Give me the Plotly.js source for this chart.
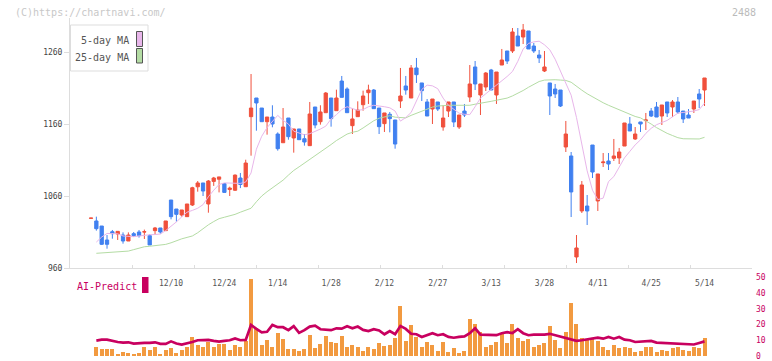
<!DOCTYPE html>
<html><head><meta charset="utf-8">
<script src="https://cdn.plot.ly/plotly-3.0.1.min.js"></script>
<style>html,body{margin:0;padding:0;background:#fff;}#chart{width:772px;height:361px;}</style>
</head><body><div id="chart"></div>
<script>
// ---- data ----
const tickIdx    = [15, 25, 35, 45, 55, 65, 75, 85, 95, 105, 115];
const tickLabels = ['12/10','12/24','1/14','1/28','2/12','2/27','3/13','3/28','4/11','4/25','5/14'];

const openP = [1029,1025.3,1018.3,998.9,1010.4,1007.2,1005.8,997.5,1007.7,1010,1009.9,1004.9,1011.9,1015.6,1011.9,1054.4,1041.9,1033.6,1031.3,1047.5,
1072.8,1078.1,1048.9,1080.3,1083.3,1077.2,1069,1068,1085,1072.9,1170.2,1196.1,1182.2,1163.2,1169.7,1146.1,1134,1168.3,1140.6,1153.1,
1139.6,1129.9,1183.6,1163.2,1175.7,1196.1,1178.5,1219.7,1208.6,1157.7,1170.2,1186.8,1203.5,1207.2,1182.2,1160.5,1173.5,1165.6,1191.9,1212.8,
1196.1,1237.8,1217,1190.6,1180.8,1190.6,1155.8,1178,1190.6,1155.8,1178,1197.5,1239.2,1200.3,1211.4,1235,1200.3,1241.9,1261.4,1261.4,
1282.2,1280.8,1289.2,1268.3,1255.8,1233.6,1217,1208.6,1207.2,1128.1,1115.6,975.3,1039.2,1046.1,1130.8,1053.1,1106.3,1108.6,1112.3,1112.8,
1129.4,1160,1139.2,1162.8,1164.7,1178,1183.6,1171.1,1190.6,1183.6,1190.6,1178,1172.5,1180.8,1201.7,1207.2];
const highP = [1029.3,1031.3,1018.3,1005.8,1012.8,1010.9,1009.5,1009.5,1010,1012.8,1013.3,1006.7,1017,1015.6,1025.3,1054.4,1041.9,1040.6,1048.9,1072.8,
1080.8,1078.1,1082.2,1086.5,1086.5,1077.2,1073,1090,1092,1110.4,1229.4,1196.1,1182.2,1169.7,1186,1148.4,1182.2,1168.3,1153.1,1153.1,
1146.1,1190.6,1183.6,1186,1204.4,1196.1,1207.7,1226.7,1210.9,1182.2,1191.5,1206.3,1214.6,1208.6,1182.2,1175.3,1176.7,1165.6,1237.8,1226.7,
1241.9,1251.7,1217,1194.7,1194.7,1190.6,1186,1190.6,1190.6,1172.5,1187.8,1241.9,1247.5,1215.6,1232.2,1236.5,1232.2,1264.2,1261.4,1293.3,
1293.3,1298.9,1289.2,1272.5,1262.8,1261.4,1217,1215.6,1207.2,1164.2,1121.1,1005.8,1080.8,1061.4,1130.8,1090.6,1119.7,1119.7,1139.2,1126.7,
1161.4,1169.7,1155.8,1162.8,1175.3,1182.2,1190.6,1186.4,1190.6,1193.3,1197.5,1178,1180.8,1191.9,1208.6,1223.9];
const lowP = [1029,1011.9,992,986.8,1000.7,998.9,993.8,997.5,1003.5,1002.2,1000.3,992,1006.3,1007.7,1011.9,1027.6,1024.4,1031.3,1031.3,1046.1,
1066,1060,1036.8,1074,1065,1065,1060,1067,1071,1072.9,1116,1150.7,1163.2,1145.2,1155.4,1123,1134,1138.2,1120.2,1138.2,
1129.9,1129.9,1154,1159.1,1175.7,1156.3,1178.5,1197,1175.7,1146.1,1170.2,1178.5,1187.8,1181.3,1146.1,1148.9,1148.4,1125.7,1182.2,1200.7,
1196.1,1217,1191.9,1171.1,1160,1178,1150.7,1169.7,1155.8,1153.1,1169.7,1190.6,1207.2,1172.5,1205.8,1207.2,1187.8,1241.9,1243.3,1258.6,
1268.3,1271.1,1264.2,1258.6,1244.7,1232.2,1172.5,1196.1,1183.6,1121.1,1030.8,966.9,1036.4,1019.7,1085,1039.2,1100.3,1096.1,1108.6,1104.4,
1129.4,1150.3,1137.8,1148.9,1151.7,1169.7,1169.7,1158.6,1169.7,1169.7,1173.9,1161.4,1168.3,1175.3,1182.2,1185];
const closeP = [1029.3,1014.6,992.9,992.9,1007.7,1010.9,997.5,1005.8,1004.9,1004.9,1010.4,992,1015.6,1010,1025.3,1031.3,1034.5,1040.6,1048.9,1071.5,
1078.1,1066.9,1080.8,1085,1086.5,1065,1071,1089,1076,1105.8,1182.2,1189.2,1163.2,1169.7,1160,1125.7,1155.8,1142.4,1153.1,1138.2,
1135,1173.9,1158.6,1176.7,1203,1167.4,1196.1,1197,1175.7,1167,1179.4,1198.9,1207.2,1181.3,1156.3,1175.3,1167.4,1132.2,1198.9,1207.2,
1237.8,1228.5,1206.3,1171.1,1194.7,1180.8,1168.3,1190.6,1162.8,1172.5,1172.5,1215.6,1215.6,1215.6,1230.8,1207.2,1232.2,1248.9,1247.5,1287.8,
1268.3,1290.6,1264.2,1261.4,1251.7,1239.2,1198.9,1201.7,1185,1146.1,1065.6,987.8,1075.3,1039.2,1093.3,1090.6,1107.2,1104.4,1115.6,1121.1,
1161.4,1150.3,1146.1,1160,1165.6,1171.1,1169.7,1186.4,1175.3,1190.6,1176.7,1167,1168.3,1191.9,1194.7,1223.9];

const ma5 = [null,996,1003,1008,1008.2,1007.5,1004.5,1003.8,1003.5,1004.5,1005.8,1006.2,1006.5,1007.2,1012,1017.5,1024,1031,1037.5,1040,
1043,1048,1059,1068,1076,1078.2,1078,1077,1077.5,1079.4,1092,1125,1143,1155,1164,1172,1165,1160,1150,1147,
1145,1146.5,1149.5,1153,1157,1167,1173,1180,1184,1181,1179,1180,1184,1186,1185.5,1184,1182.5,1178,1164,1169,
1176,1192,1208,1214,1213,1209,1196,1186,1180,1175,1173.5,1173,1184,1196,1202,1208,1213,1220,1226,1233,
1247,1264,1272,1274,1275,1270,1263,1250,1234,1217,1200,1169,1131,1095,1068,1055,1057,1080,1087,1101,
1113,1122,1131,1138,1147,1154,1159,1162,1165,1170,1175,1176,1176.7,1178,1180,1189];
const ma25 = [null,980.4,980.8,981.2,981.8,982.4,983,983.5,985.5,988,989.5,990.2,991,991.8,992.8,995,998,1000.5,1002.5,1004.5,
1009,1015,1020,1024.5,1028.5,1030.5,1032,1034.5,1037.5,1040.5,1043,1052,1060,1066,1071.5,1077,1082,1089,1095.5,1100.5,
1105.5,1110.5,1116,1121.5,1126.5,1131.5,1137,1141.5,1146,1148.5,1150,1154.5,1160,1164.5,1168,1170,1171.5,1169.5,1168.5,1168.5,
1172,1175,1177.5,1181,1183.5,1185,1186,1186,1186,1186,1186,1186,1187.5,1188.5,1190,1191.5,1193,1194.5,1196,1199,
1202.5,1206.5,1211,1215.5,1219,1221,1221.5,1221.5,1221,1220.5,1218,1212,1207,1202,1197.5,1193.5,1189.5,1186,1183,1179,
1176,1173.5,1170.5,1168.5,1164.5,1160,1155,1150.5,1147,1144,1141,1139.5,1139.2,1139.2,1139.2,1141.5];

const volume = [0,5.4,4.2,4.2,4.2,1.1,2.3,1.7,1.1,1.7,5.4,3.5,6.0,1.1,3.5,4.8,1.7,3.5,6.0,12.3,
7.3,6.0,9.1,5.4,7.9,7.9,3.5,6.7,5.4,9.8,48.9,17.8,7.3,10.4,5.4,14.7,11.0,4.2,4.2,2.9,
4.2,13.5,4.8,7.9,12.9,9.1,8.5,12.9,5.4,6.7,6.0,2.9,6.0,4.2,8.5,6.5,7.3,11.6,31.5,9.8,
19.7,12.3,5.4,9.1,6.7,2.9,9.1,2.3,4.8,1.7,2.9,23.4,20.3,15.4,6.0,7.3,9.1,14.1,8.5,20.3,
11.6,9.8,11.0,6.0,6.7,8.5,19.1,10.4,4.8,15.4,33.4,20.3,11.6,11.0,11.6,9.8,5.4,3.5,6.7,4.8,
5.4,4.8,2.3,2.9,6.0,5.4,2.3,3.5,2.9,4.8,6.0,3.5,2.9,5.4,4.8,11.6];
const aiPredict = [null,9.8,10.4,10.4,9.6,8.9,8.5,8.7,7.9,8.3,8.3,8.3,8.7,7.7,7.7,9.3,7.9,7.3,7.9,8.9,
10.0,10.2,10.2,9.6,9.1,9.6,10.0,11.2,10.0,10.2,19.7,17.2,15.0,15.4,19.7,18.3,18.3,16.4,19.0,14.7,
16.4,18.7,19.3,17.0,16.6,16.4,17.6,17.4,18.9,17.6,18.7,16.6,15.8,17.0,16.2,13.8,15.8,13.8,19.1,17.2,
14.1,13.8,12.1,13.2,14.5,13.2,13.8,12.1,11.6,12.1,12.5,14.5,17.6,13.6,13.6,13.4,13.2,14.5,15.2,14.5,
17.0,14.5,13.2,13.6,13.6,13.6,14.1,13.2,12.1,11.6,10.4,9.6,10.0,10.6,11.0,11.6,11.0,12.1,11.0,12.1,
10.4,10.0,8.9,9.1,9.3,9.6,8.5,8.3,8.3,8.3,7.9,7.7,7.3,7.3,8.3,9.3];

const priceTicks = [960, 1060, 1160, 1260];
const aiTicks = [0, 10, 20, 30, 40, 50];

// ---- chart ----
const xs = closeP.map((_, i) => i);
const mono = 'DejaVu Sans Mono, Liberation Mono, monospace';
const RED = '#f0503c', BLUE = '#4080f0', PINK = '#e8b6ea', GREEN = '#b4dca4', ORANGE = '#f29a40', CRIMSON = '#c8005f';

const W = 772, H = 361, ML = 70, MR = 20, MT = 18, MB = 5;
const px = x => (x - ML) / (W - ML - MR);
const py = y => (H - MB - y) / (H - MT - MB);

const traces = [
  {type:'candlestick', x:xs, open:openP, high:highP, low:lowP, close:closeP, xaxis:'x', yaxis:'y',
   whiskerwidth:0,
   increasing:{line:{color:RED, width:1}, fillcolor:RED},
   decreasing:{line:{color:BLUE, width:1}, fillcolor:BLUE}, hoverinfo:'skip'},
  {type:'scatter', mode:'lines', x:xs, y:ma25, xaxis:'x', yaxis:'y', line:{color:GREEN, width:1}, hoverinfo:'skip'},
  {type:'scatter', mode:'lines', x:xs, y:ma5, xaxis:'x', yaxis:'y', line:{color:PINK, width:1}, hoverinfo:'skip'},
  {type:'bar', x:xs, y:volume, xaxis:'x2', yaxis:'y2', width:0.75, marker:{color:ORANGE, line:{width:0}}, hoverinfo:'skip'},
  {type:'scatter', mode:'lines', x:xs, y:aiPredict, xaxis:'x2', yaxis:'y2', line:{color:CRIMSON, width:2.7}, hoverinfo:'skip'},
  {type:'scatter', mode:'lines', x:[], y:[], xaxis:'x3', yaxis:'y', hoverinfo:'skip'}
];

const xr = [-3.94, 123.9];
const layout = {
  width:W, height:H, margin:{l:ML, r:MR, t:MT, b:MB},
  paper_bgcolor:'#ffffff', plot_bgcolor:'#ffffff', showlegend:false, boxgap:0.12, bargap:0,
  xaxis:{domain:[0,1], anchor:'y', range:xr, tickvals:tickIdx, ticktext:tickLabels, ticks:'',
         showline:true, linecolor:'#dddddd', linewidth:1, showgrid:false, zeroline:false,
         tickfont:{family:mono, size:8, color:'#555'}, ticklabelstandoff:7,
         rangeslider:{visible:false}, fixedrange:true},
  xaxis2:{domain:[0,1], anchor:'y2', range:xr, showticklabels:false, ticks:'', showline:false,
          showgrid:false, zeroline:false, fixedrange:true},
  xaxis3:{overlaying:'x', anchor:'y', side:'bottom', range:[0,11], tickvals:[0,1,2,3,4,5,6,7,8,9,10,11],
          ticks:'inside', ticklen:3, tickcolor:'#dddddd', showticklabels:false, showgrid:false,
          zeroline:false, showline:false, fixedrange:true},
  yaxis:{domain:[py(268), 1], anchor:'x', range:[960, 960 + 250/0.72], tickvals:priceTicks,
         ticks:'outside', ticklen:5, tickcolor:'#dddddd', showline:true, linecolor:'#dddddd', linewidth:1,
         showgrid:false, zeroline:false, tickfont:{family:mono, size:8, color:'#444'}, fixedrange:true},
  yaxis2:{domain:[0, py(277.3)], anchor:'x2', side:'right', range:[0,50], tickvals:aiTicks, ticks:'',
          showline:false, showgrid:false, zeroline:false, ticklabelstandoff:3, ticklabeloverflow:'allow',
          tickfont:{family:mono, size:8, color:CRIMSON}, fixedrange:true},
  shapes:[
    {type:'rect', xref:'paper', yref:'paper', x0:px(70.5), x1:px(148), y0:py(71), y1:py(25),
     line:{color:'#dddddd', width:1}, fillcolor:'#ffffff', layer:'above'},
    {type:'rect', xref:'paper', yref:'paper', x0:px(136.5), x1:px(142.5), y0:py(46.5), y1:py(31.5),
     line:{color:'#555', width:1}, fillcolor:PINK, layer:'above'},
    {type:'rect', xref:'paper', yref:'paper', x0:px(136.5), x1:px(142.5), y0:py(63), y1:py(48.5),
     line:{color:'#555', width:1}, fillcolor:GREEN, layer:'above'},
    {type:'rect', xref:'paper', yref:'paper', x0:px(142), x1:px(148.5), y0:py(293), y1:py(277),
     line:{width:0}, fillcolor:CRIMSON, layer:'above'}
  ],
  annotations:[
    {xref:'paper', yref:'paper', x:px(131), y:py(40.5), xanchor:'right', yanchor:'middle', showarrow:false,
     text:'5-day MA', font:{family:mono, size:10, color:'#555'}},
    {xref:'paper', yref:'paper', x:px(131), y:py(57), xanchor:'right', yanchor:'middle', showarrow:false,
     text:'25-day MA', font:{family:mono, size:10, color:'#555'}},
    {xref:'paper', yref:'paper', x:px(74.5), y:py(286), xanchor:'left', yanchor:'middle', showarrow:false,
     text:'AI-Predict', font:{family:mono, size:10, color:CRIMSON}},
    {xref:'paper', yref:'paper', x:px(13), y:py(12.5), xanchor:'left', yanchor:'middle', showarrow:false,
     text:'(C)https://chartnavi.com/', font:{family:mono, size:10, color:'#c8c8c8'}},
    {xref:'paper', yref:'paper', x:px(758), y:py(12.5), xanchor:'right', yanchor:'middle', showarrow:false,
     text:'2488', font:{family:mono, size:10, color:'#bbbbbb'}}
  ]
};

Plotly.newPlot('chart', traces, layout, {staticPlot:true, displayModeBar:false});
</script></body></html>
